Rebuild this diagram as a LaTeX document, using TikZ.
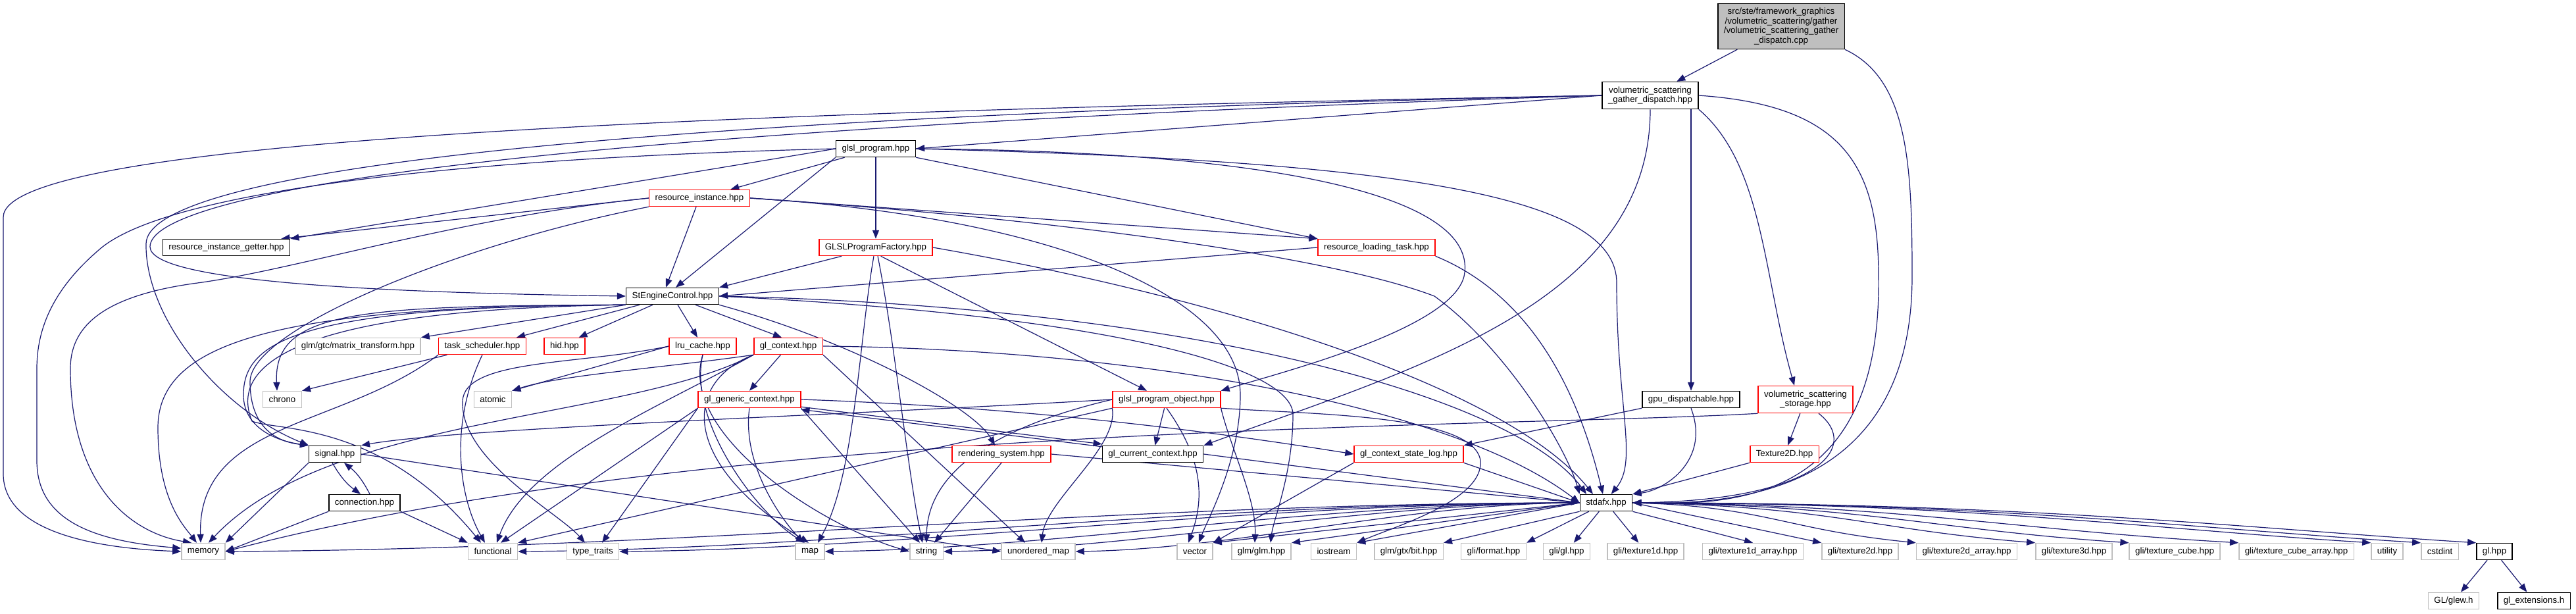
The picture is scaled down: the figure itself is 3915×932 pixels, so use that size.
\documentclass[tikz,border=0pt]{standalone}
\usepackage{fontspec}
\setmainfont{Liberation Sans}
\usetikzlibrary{arrows.meta,backgrounds}
\definecolor{edgeblue}{RGB}{25,25,112}
\definecolor{extgray}{RGB}{191,191,191}
\definecolor{rootgray}{RGB}{191,191,191}

\begin{document}
\begin{tikzpicture}[x=1pt,y=1pt,
  every node/.style={font=\fontsize{13.3}{14.7}\selectfont},
  box/.style={draw,line width=1.5pt,fill=white,minimum height=25pt,inner xsep=9pt,inner ysep=2pt},
  docbox/.style={box,draw=black},
  redbox/.style={box,draw=red},
  extbox/.style={box,draw=extgray},
  rootbox/.style={box,draw=black,fill=rootgray,align=center,minimum height=69pt},
  twoline/.style={align=center,minimum height=41pt},
  dep/.style={draw=edgeblue,line width=1.2pt,-{Triangle[length=13pt,width=10pt]}}]
  \useasboundingbox (0,0) rectangle (3915,-932);

  \node[rootbox] (cpp) at (2707,-40) {src/ste/framework\_graphics\\/volumetric\_scattering/gather\\/volumetric\_scattering\_gather\\\_dispatch.cpp};
  \node[docbox,twoline] (vsgd) at (2508,-145) {volumetric\_scattering\\\_gather\_dispatch.hpp};
  \node[docbox] (glslprog) at (1331,-226) {glsl\_program.hpp};
  \node[redbox] (resinst) at (1063,-301) {resource\_instance.hpp};
  \node[docbox] (resgetter) at (344,-376) {resource\_instance\_getter.hpp};
  \node[redbox] (glslfactory) at (1331,-376) {GLSLProgramFactory.hpp};
  \node[redbox] (resload) at (2092,-376) {resource\_loading\_task.hpp};
  \node[docbox] (stengine) at (1022,-450) {StEngineControl.hpp};
  \node[extbox] (matrixtr) at (544,-526) {glm/gtc/matrix\_transform.hpp};
  \node[redbox] (tasksched) at (733,-526) {task\_scheduler.hpp};
  \node[redbox] (hid) at (858,-526) {hid.hpp};
  \node[redbox] (lru) at (1068,-526) {lru\_cache.hpp};
  \node[redbox] (glctx) at (1198,-526) {gl\_context.hpp};
  \node[extbox] (chrono) at (429,-607) {chrono};
  \node[extbox] (atomic) at (749,-607) {atomic};
  \node[redbox] (glgeneric) at (1139,-607) {gl\_generic\_context.hpp};
  \node[redbox] (glslobj) at (1773,-607) {glsl\_program\_object.hpp};
  \node[docbox] (gpudisp) at (2570,-607) {gpu\_dispatchable.hpp};
  \node[redbox,twoline] (vsstorage) at (2744,-607) {volumetric\_scattering\\\_storage.hpp};
  \node[docbox] (signal) at (509,-690) {signal.hpp};
  \node[redbox] (rendersys) at (1522,-690) {rendering\_system.hpp};
  \node[docbox] (glcurrent) at (1752,-690) {gl\_current\_context.hpp};
  \node[redbox] (glstatelog) at (2141,-690) {gl\_context\_state\_log.hpp};
  \node[redbox] (texture2d) at (2712,-690) {Texture2D.hpp};
  \node[docbox] (connection) at (554,-764) {connection.hpp};
  \node[docbox] (stdafx) at (2441,-764) {stdafx.hpp};

  \node[extbox] (memory) at (309,-838) {memory};
  \node[extbox] (functional) at (749,-838) {functional};
  \node[extbox] (typetraits) at (901,-838) {type\_traits};
  \node[extbox] (map) at (1231,-838) {map};
  \node[extbox] (string) at (1408,-838) {string};
  \node[extbox] (unorderedmap) at (1578,-838) {unordered\_map};
  \node[extbox] (vector) at (1816,-838) {vector};
  \node[extbox] (glmglm) at (1917,-838) {glm/glm.hpp};
  \node[extbox] (iostream) at (2027,-838) {iostream};
  \node[extbox] (gtxbit) at (2141,-838) {glm/gtx/bit.hpp};
  \node[extbox] (gliformat) at (2270,-838) {gli/format.hpp};
  \node[extbox] (gligl) at (2381,-838) {gli/gl.hpp};
  \node[extbox] (glitexa) at (2501,-838) {gli/texture1d.hpp};
  \node[extbox] (glitexb) at (2664,-838) {gli/texture1d\_array.hpp};
  \node[extbox] (glitexc) at (2827,-838) {gli/texture2d.hpp};
  \node[extbox] (glitexd) at (2989,-838) {gli/texture2d\_array.hpp};
  \node[extbox] (glitexe) at (3152,-838) {gli/texture3d.hpp};
  \node[extbox] (glitexf) at (3305,-838) {gli/texture\_cube.hpp};
  \node[extbox] (glitexg) at (3490,-838) {gli/texture\_cube\_array.hpp};
  \node[extbox] (utility) at (3628,-838) {utility};
  \node[extbox] (cstdint) at (3708,-838) {cstdint};
  \node[docbox] (glhpp) at (3791,-838) {gl.hpp};
  \node[extbox] (glew) at (3729,-913) {GL/glew.h};
  \node[docbox] (glext) at (3851,-913) {gl\_extensions.h};

  \begin{scope}[on background layer]
  \draw[dep] (cpp) -- (vsgd);
  \draw[dep] (cpp.south east) .. controls (2900,-120) and (2906,-250) .. (2906,-420) .. controls (2906,-740) and (2650,-768) .. (stdafx.east);

  \draw[dep] (vsgd.west) -- (glslprog.east);
  \draw[dep] (vsgd.west) .. controls (1100,-170) and (5,-210) .. (5,-330) -- (5,-720) .. controls (5,-800) and (120,-832) .. (memory.west);
  \draw[dep] (vsgd.west) .. controls (800,-180) and (225,-270) .. (222,-370) .. controls (220,-480) and (330,-620) .. (signal.north west);
  \draw[dep] (vsgd.west) .. controls (700,-200) and (228,-300) .. (228,-375) .. controls (228,-430) and (600,-445) .. (stengine.west);
  \draw[dep] (vsgd.south) .. controls (2508,-460) and (2150,-560) .. (glcurrent.north east);
  \draw[dep] (vsgd.south -| gpudisp) -- (gpudisp);
  \draw[dep] (vsgd.south east) .. controls (2680,-250) and (2680,-420) .. ([xshift=-17pt]vsstorage.north);
  \draw[dep] (vsgd.east) .. controls (2800,-160) and (2855,-250) .. (2855,-420) .. controls (2860,-760) and (2640,-768) .. (stdafx.east);

  \draw[dep] (glslprog) -- (resinst);
  \draw[dep] (glslprog) -- (glslfactory);
  \draw[dep] (glslprog.south west) -- ([xshift=5pt]stengine.north);
  \draw[dep] (glslprog.west) -- (resgetter.north east);
  \draw[dep] (glslprog.west) .. controls (700,-240) and (250,-290) .. (150,-380) .. controls (80,-440) and (56,-500) .. (56,-560) -- (56,-700) .. controls (56,-790) and (140,-822) .. ([yshift=5pt]memory.west);
  \draw[dep] (glslprog.south east) -- (resload.north west);
  \draw[dep] (glslprog.east) .. controls (1950,-230) and (2250,-300) .. (2225,-420) .. controls (2205,-500) and (1950,-565) .. (glslobj.north east);
  \draw[dep] (glslprog.east) .. controls (2150,-245) and (2457,-300) .. (2457,-430) .. controls (2457,-620) and (2490,-700) .. (stdafx.60);

  \draw[dep] (resinst.west) -- ([xshift=-14pt]resgetter.north east);
  \draw[dep] (resinst) -- ([xshift=-10pt]stengine.north);
  \draw[dep] (resinst.east) -- (resload.north west);
  \draw[dep] (resinst.west) .. controls (700,-330) and (450,-410) .. (300,-430) .. controls (150,-450) and (107,-500) .. (107,-560) .. controls (107,-740) and (200,-810) .. ([xshift=-18pt]memory.north);
  \draw[dep] (resinst.south west) .. controls (700,-370) and (380,-500) .. (380,-580) .. controls (380,-640) and (410,-670) .. (signal.north west);
  \draw[dep] (resinst.east) .. controls (1600,-330) and (1885,-450) .. (1885,-600) .. controls (1885,-700) and (1835,-790) .. ([xshift=6pt]vector.north);
  \draw[dep] (resinst.east) .. controls (1700,-340) and (2050,-400) .. (2180,-450) .. controls (2290,-530) and (2380,-680) .. (stdafx.north west);

  \draw[dep] (glslfactory) -- (stengine.north east);
  \draw[dep] (glslfactory.300) -- ([xshift=-30pt]glslobj.north);
  \draw[dep] ([xshift=-3pt]glslfactory.south) .. controls (1305,-520) and (1300,-720) .. ([xshift=12pt]map.north);
  \draw[dep] ([xshift=3pt]glslfactory.south) .. controls (1360,-520) and (1380,-720) .. ([xshift=-6pt]string.north);
  \draw[dep] (glslfactory.east) .. controls (1900,-460) and (2300,-600) .. ([xshift=-20pt]stdafx.north);

  \draw[dep] (resload.west) -- (stengine.east);
  \draw[dep] (resload.south east) .. controls (2330,-450) and (2400,-600) .. ([xshift=-5pt]stdafx.north);

  \draw[dep] (stengine.south west) -- (matrixtr.north east);
  \draw[dep] (stengine) -- ([xshift=-15pt]tasksched.north east);
  \draw[dep] (stengine) -- ([xshift=-10pt]hid.north east);
  \draw[dep] (stengine) -- (lru);
  \draw[dep] (stengine) -- ([xshift=-10pt]glctx.north);
  \draw[dep] (stengine.south west) .. controls (550,-465) and (415,-470) .. ([xshift=-8pt]chrono.north);
  \draw[dep] (stengine.south west) .. controls (420,-465) and (240,-520) .. (240,-650) .. controls (240,-760) and (280,-800) .. ([xshift=-10pt]memory.north);
  \draw[dep] (stengine.south west) .. controls (450,-465) and (370,-520) .. (370,-600) .. controls (370,-650) and (420,-670) .. (signal.north west);
  \draw[dep] (stengine.south west) .. controls (430,-470) and (350,-560) .. (383,-640) .. controls (420,-655) and (580,-640) .. ([xshift=-18pt]functional.north);
  \draw[dep] (stengine.south east) .. controls (1300,-520) and (1480,-620) .. ([xshift=-10pt]rendersys.north);
  \draw[dep] (stengine.east) .. controls (1700,-480) and (1965,-560) .. (1965,-630) .. controls (1965,-720) and (1935,-790) .. ([xshift=14pt]glmglm.north);
  \draw[dep] (stengine.east) .. controls (1800,-465) and (2300,-600) .. ([xshift=-30pt]stdafx.north);

  \draw[dep] (tasksched) -- (chrono.north east);
  \draw[dep] (tasksched.south west) .. controls (520,-650) and (300,-640) .. ([xshift=-4pt]memory.north);
  \draw[dep] (tasksched.south) .. controls (680,-650) and (700,-760) .. ([xshift=-12pt]functional.north);

  \draw[dep] (lru.west) -- (atomic.north east);
  \draw[dep] (lru.west) .. controls (880,-555) and (705,-545) .. (703,-610) .. controls (700,-700) and (850,-780) .. ([xshift=-12pt]typetraits.north);
  \draw[dep] (lru.south) .. controls (1045,-640) and (1150,-780) .. ([xshift=-8pt]map.north);
  \draw[dep] (lru.south) .. controls (1030,-660) and (1250,-800) .. (string.west);

  \draw[dep] (glctx.south west) .. controls (1000,-560) and (850,-570) .. (atomic.north east);
  \draw[dep] (glctx) -- (glgeneric.north);
  \draw[dep] (glctx.south east) -- ([xshift=-20pt]unorderedmap.north);
  \draw[dep] (glctx.east) .. controls (1700,-530) and (2200,-610) .. (stdafx.west);
  \draw[dep] (glctx.south west) .. controls (1040,-580) and (1030,-700) .. ([xshift=-2pt]map.north);
  \draw[dep] (glctx.south west) .. controls (950,-640) and (500,-630) .. ([xshift=8pt]memory.north);
  \draw[dep] (glctx.south west) .. controls (1000,-620) and (800,-700) .. ([xshift=6pt]functional.north);

  \draw[dep] ([yshift=2pt]glgeneric.south east) -- ([yshift=2pt]glcurrent.north west);
  \draw[dep] ([yshift=-2pt]glcurrent.north west) -- ([yshift=-2pt]glgeneric.south east);
  \draw[dep] (glgeneric.east) .. controls (1600,-620) and (1900,-665) .. (glstatelog.west);
  \draw[dep] (glgeneric.south) .. controls (1128,-700) and (1180,-780) .. ([xshift=-10pt]map.north);
  \draw[dep] (glgeneric.south east) -- ([xshift=-10pt]string.north);
  \draw[dep] (glgeneric.south west) -- ([xshift=12pt]functional.north);
  \draw[dep] (glgeneric.south west) -- ([xshift=14pt]typetraits.north);

  \draw[dep] (glslobj) -- (glcurrent);
  \draw[dep] (glslobj.west) .. controls (1300,-630) and (700,-650) .. (signal.north east);
  \draw[dep] (glslobj.south west) -- (functional.north east);
  \draw[dep] (glslobj.west) .. controls (1550,-640) and (1410,-700) .. (string.north);
  \draw[dep] (glslobj.south west) .. controls (1700,-680) and (1590,-760) .. ([xshift=5pt]unorderedmap.north);
  \draw[dep] (glslobj.south) .. controls (1830,-700) and (1830,-760) .. ([xshift=-10pt]vector.north);
  \draw[dep] (glslobj.south east) .. controls (1870,-680) and (1910,-760) .. ([xshift=-10pt]glmglm.north);
  \draw[dep] (glslobj.south east) .. controls (2000,-630) and (2240,-630) .. (2250,-700) .. controls (2255,-760) and (2120,-800) .. (iostream.north east);

  \draw[dep] (rendersys.south) -- ([xshift=12pt]string.north);
  \draw[dep] (rendersys.east) -- (stdafx.west);
  \draw[dep] (glcurrent.east) -- (stdafx.west);
  \draw[dep] (gpudisp.south west) -- (glstatelog.north east);
  \draw[dep] (gpudisp.south) .. controls (2600,-700) and (2530,-745) .. (stdafx.north east);
  \draw[dep] (vsstorage) -- (texture2d);
  \draw[dep] ([xshift=20pt]vsstorage.south) .. controls (2830,-680) and (2760,-760) .. (stdafx.east);
  \draw[dep] (vsstorage.south west) .. controls (2300,-650) and (1100,-640) .. (memory.east);
  \draw[dep] (texture2d.south west) -- (stdafx.north east);
  \draw[dep] (glstatelog.south west) -- (vector.north east);
  \draw[dep] (glstatelog.south east) -- (stdafx.west);

  \draw[dep] ([xshift=-4pt]signal.south) to[bend right=12] ([xshift=-6pt]connection.north);
  \draw[dep] ([xshift=8pt]connection.north) to[bend right=12] ([xshift=14pt]signal.south);
  \draw[dep] (signal.south west) -- (memory.north east);
  \draw[dep] (signal.east) -- (unorderedmap.west);
  \draw[dep] (connection.south west) -- (memory.east);
  \draw[dep] (connection.south east) -- (functional.north west);

  \draw[dep] (stdafx.west) .. controls +(-700,0) and +(700,4) .. (memory.east);
  \draw[dep] (stdafx.west) .. controls +(-600,0) and +(500,4) .. (functional.east);
  \draw[dep] (stdafx.west) .. controls +(-500,0) and +(450,4) .. (typetraits.east);
  \draw[dep] (stdafx.west) .. controls +(-400,0) and +(350,4) .. (map.east);
  \draw[dep] (stdafx.west) .. controls +(-330,0) and +(300,4) .. (string.east);
  \draw[dep] (stdafx.west) .. controls +(-260,0) and +(250,4) .. (unorderedmap.east);
  \draw[dep] (stdafx.west) -- (vector.north east);
  \draw[dep] (stdafx.west) -- (glmglm.north east);
  \draw[dep] (stdafx.west) -- (iostream.north east);
  \draw[dep] (stdafx.south west) -- (gtxbit.north east);
  \draw[dep] (stdafx) -- (gliformat.north east);
  \draw[dep] (stdafx) -- (gligl);
  \draw[dep] (stdafx) -- (glitexa);
  \draw[dep] (stdafx.south east) -- (glitexb.north);
  \draw[dep] (stdafx.east) -- (glitexc.north west);
  \draw[dep] (stdafx.east) .. controls +(200,-5) and +(-200,20) .. (glitexd.north west);
  \draw[dep] (stdafx.east) .. controls +(300,-5) and +(-250,20) .. (glitexe.north west);
  \draw[dep] (stdafx.east) .. controls +(350,-3) and +(-300,20) .. (glitexf.north west);
  \draw[dep] (stdafx.east) .. controls +(400,-2) and +(-350,20) .. (glitexg.north west);
  \draw[dep] (stdafx.east) .. controls +(500,0) and +(-350,22) .. (utility.north west);
  \draw[dep] (stdafx.east) .. controls +(550,0) and +(-350,22) .. (cstdint.north west);
  \draw[dep] (stdafx.east) .. controls +(600,0) and +(-350,22) .. (glhpp.north west);

  \draw[dep] (glhpp) -- (glew);
  \draw[dep] (glhpp) -- (glext);
  \end{scope}
\end{tikzpicture}
\end{document}
